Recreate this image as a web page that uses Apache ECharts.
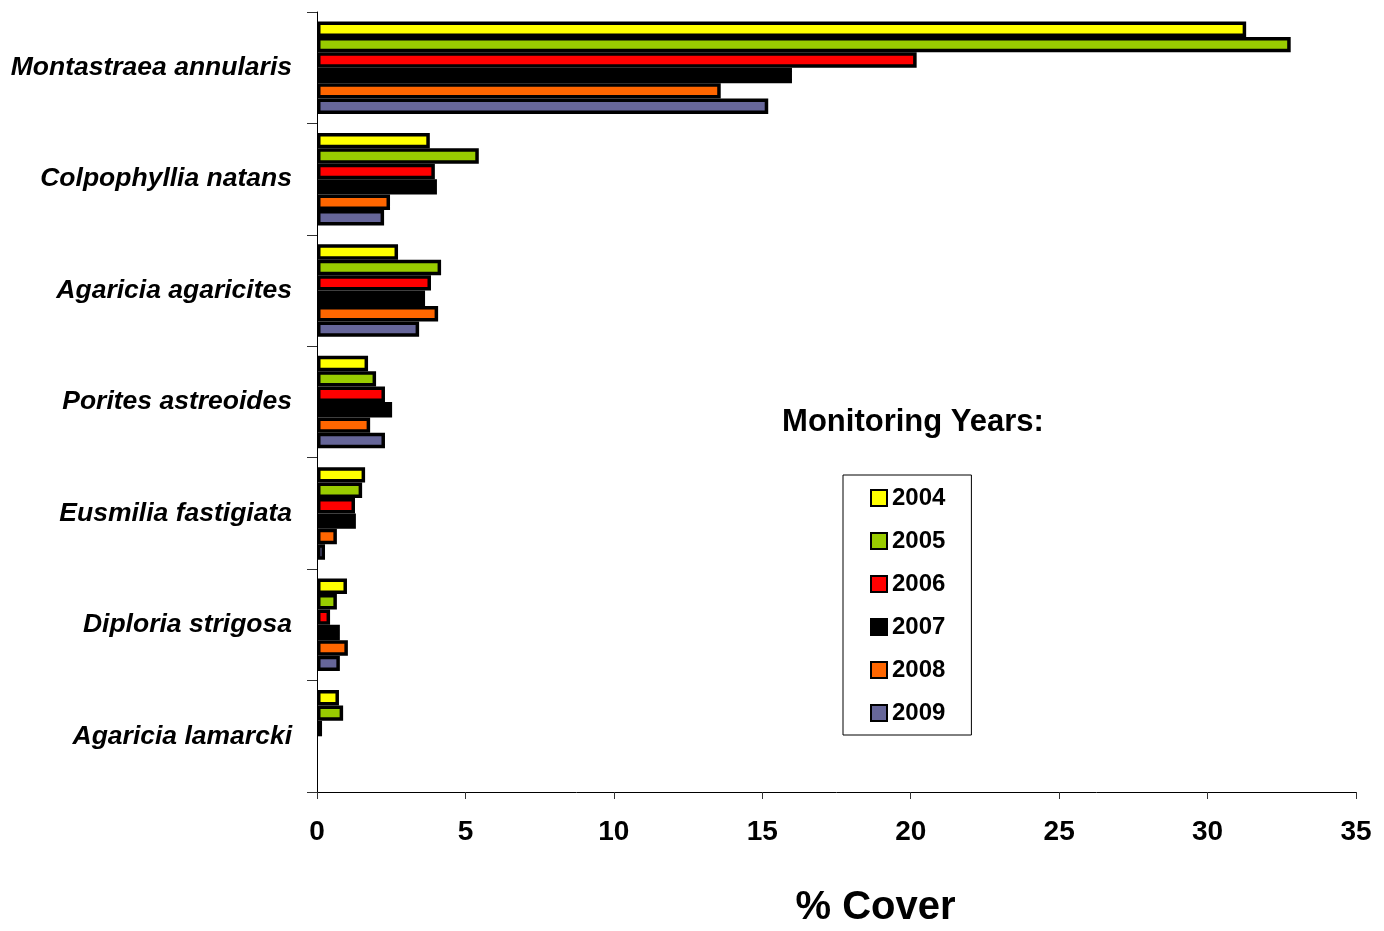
<!DOCTYPE html>
<html>
<head>
<meta charset="utf-8">
<script src="https://cdn.jsdelivr.net/npm/echarts@6/dist/echarts.min.js"></script>
<style>html,body{margin:0;padding:0;background:#fff;}#c{width:1384px;height:931px;}</style>
</head>
<body>
<div id="c"></div>
<script>
const categories = ["Montastraea annularis","Colpophyllia natans","Agaricia agaricites","Porites astreoides","Eusmilia fastigiata","Diploria strigosa","Agaricia lamarcki"];
const years = ["2004","2005","2006","2007","2008","2009"];
const v2004 = [31.3, 3.8, 2.73, 1.72, 1.62, 1.01, 0.74];
const v2005 = [32.8, 5.45, 4.18, 1.99, 1.52, 0.67, 0.88];
const v2006 = [20.2, 3.97, 3.84, 2.29, 1.28, 0.44, 0.17];
const v2007 = [16.0, 4.04, 3.64, 2.53, 1.31, 0.77, null];
const v2008 = [13.6, 2.46, 4.08, 1.79, 0.67, 1.04, null];
const v2009 = [15.2, 2.26, 3.44, 2.29, 0.27, 0.77, null];
const xTicks = [0,5,10,15,20,25,30,35];
const colors = ["#FFFF00","#99CC00","#FF0000","#000000","#FF6600","#666699"];
const seriesValues = [v2004, v2005, v2006, v2007, v2008, v2009];

const chart = echarts.init(document.getElementById('c'));
const font = "Liberation Sans, Arial, sans-serif";
chart.setOption({
  animation: false,
  textStyle: {fontFamily: font},
  title: {
    text: "Monitoring Years:",
    left: 908, top: 417, textAlign: 'center', textVerticalAlign: 'middle',
    textStyle: {fontSize: 31, fontWeight: 'bold', color: '#000', fontFamily: font}
  },
  legend: {
    orient: 'vertical',
    left: 843, top: 475,
    padding: [11, 26, 10, 27],
    borderColor: '#000', borderWidth: 1,
    itemWidth: 16, itemHeight: 16, itemGap: 19,
    icon: 'rect',
    data: years,
    textStyle: {fontSize: 24, fontWeight: 'bold', color: '#000', fontFamily: font}
  },
  grid: {left: 317, right: 28, top: 12, bottom: 139, containLabel: false, outerBoundsMode: 'none'},
  xAxis: {
    type: 'value', min: xTicks[0], max: xTicks[xTicks.length-1], interval: 5,
    name: '% Cover', nameLocation: 'middle', nameGap: 96,
    nameTextStyle: {fontSize: 40, fontWeight: 'bold', color: '#000', fontFamily: font, padding: [0,0,0,78]},
    axisLine: {show: true, lineStyle: {color: '#000', width: 1}},
    axisTick: {show: true, length: 7, lineStyle: {color: '#333'}},
    axisLabel: {fontSize: 28, fontWeight: 'bold', color: '#000', margin: 26, fontFamily: font},
    splitLine: {show: false}
  },
  yAxis: {
    type: 'category', data: categories, inverse: true,
    axisLine: {show: true, lineStyle: {color: '#000', width: 1}},
    axisTick: {show: true, length: 10, lineStyle: {color: '#333'}},
    axisLabel: {fontSize: 26.5, fontWeight: 'bold', fontStyle: 'italic', color: '#000', margin: 25, fontFamily: font}
  },
  series: years.map((y, i) => ({
    name: y, type: 'bar', data: seriesValues[i],
    barGap: '0%', barCategoryGap: '17%',
    itemStyle: {color: colors[i], borderColor: '#000', borderWidth: 3.5}
  }))
});
</script>
</body>
</html>
